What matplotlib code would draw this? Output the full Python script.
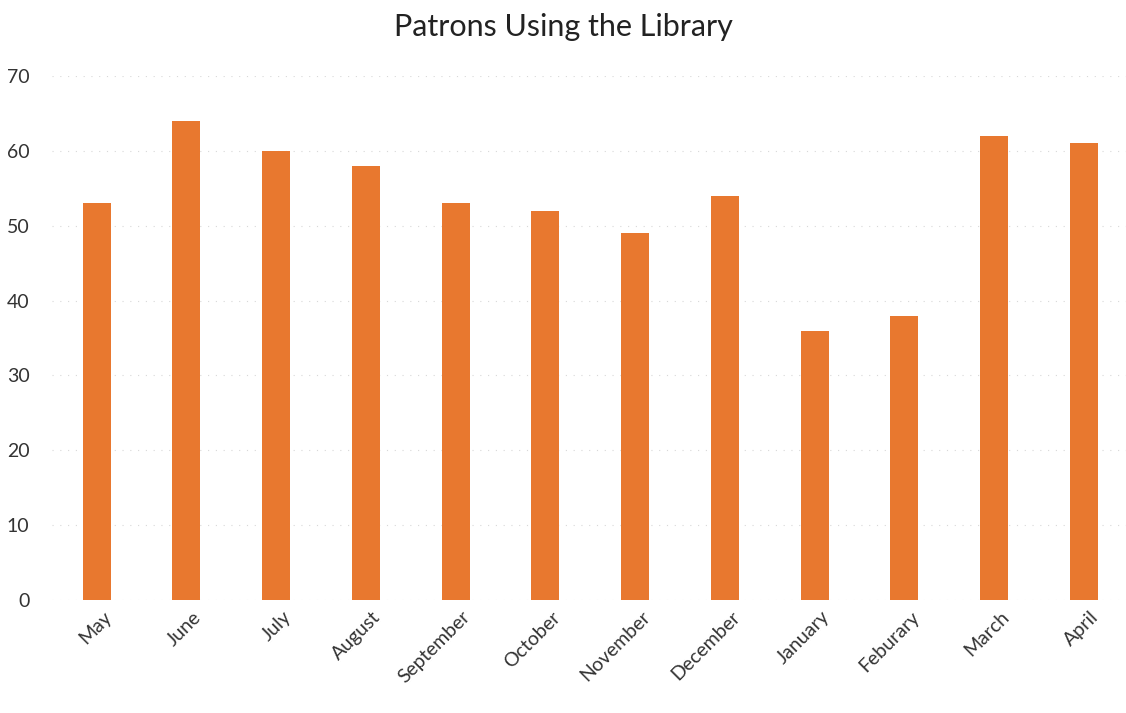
import matplotlib.pyplot as plt
import matplotlib.transforms as mtransforms

months = ['May', 'June', 'July', 'August', 'September', 'October', 'November',
          'December', 'January', 'Feburary', 'March', 'April']
patrons = [53, 64, 60, 58, 53, 52, 49, 54, 36, 38, 62, 61]
y_ticks = [0, 10, 20, 30, 40, 50, 60, 70]

plt.rcParams['font.family'] = ['Lato', 'DejaVu Sans']

fig = plt.figure(figsize=(11.26, 7.13), dpi=100)
ax = fig.add_axes([0.046, 0.1585, 0.954, 0.7349])

ax.bar(range(len(months)), patrons, width=0.31, color='#E8782F', zorder=3)

ax.set_xlim(-0.5, 11.47)
ax.set_ylim(0, 70)
ax.set_yticks(y_ticks)
ax.set_xticks(range(len(months)))
ax.set_xticklabels(months, rotation=45, ha='right', rotation_mode='anchor')
ax.tick_params(axis='both', length=0, labelsize=14, colors='#333333')
ax.tick_params(axis='y', pad=16)
ax.tick_params(axis='x', pad=6)

# labels sit a little right of the bar centre in the original
shift = mtransforms.ScaledTranslation(6 / 100, 0, fig.dpi_scale_trans)
for lbl in ax.get_xticklabels():
    lbl.set_transform(lbl.get_transform() + shift)

for s in ax.spines.values():
    s.set_visible(False)
ax.yaxis.grid(True, color='#d8d8d8', linestyle=(0, (1, 6)), linewidth=0.8, zorder=0)

fig.suptitle('Patrons Using the Library', y=0.982, fontsize=22, color='#222222')

fig.savefig('out.png', dpi=100)
